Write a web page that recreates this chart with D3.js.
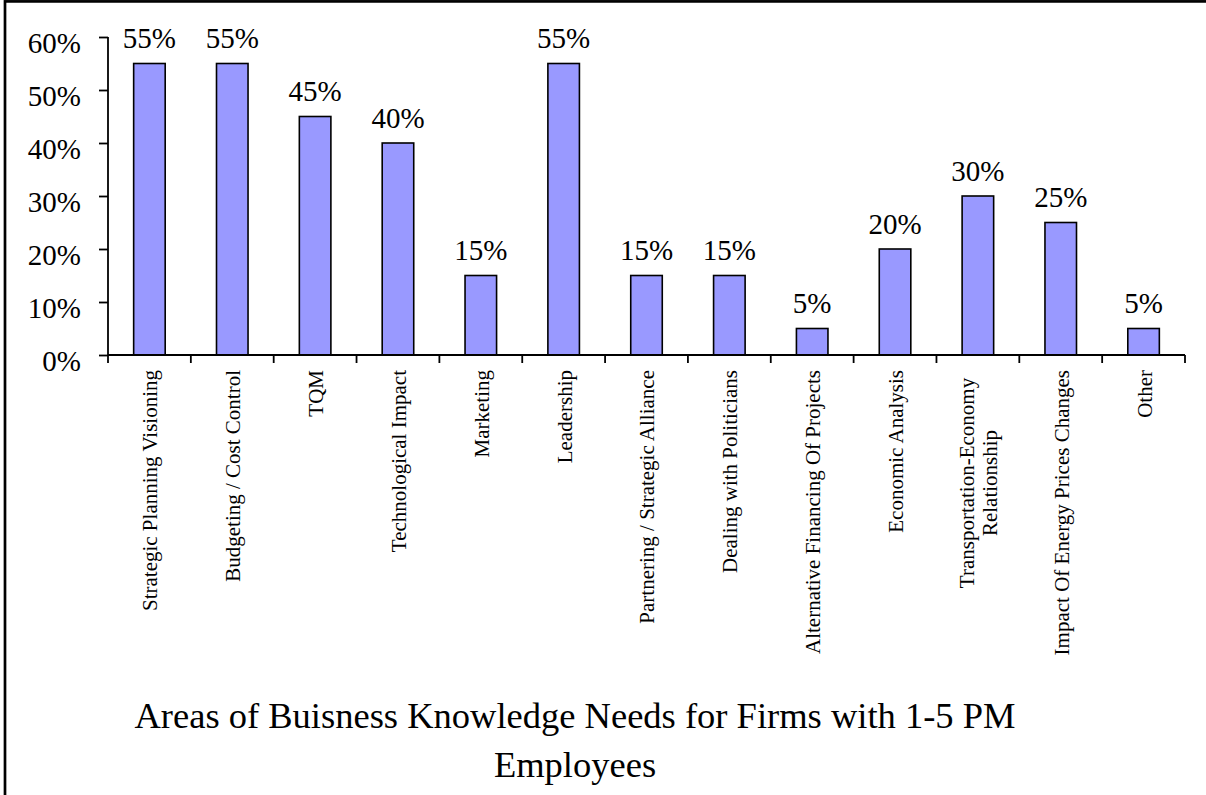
<!DOCTYPE html>
<html>
<head>
<meta charset="utf-8">
<script src="https://cdn.jsdelivr.net/npm/d3@7"></script>
<style>
  body { margin: 0; background: #fff; }
  svg { display: block; }
  text { font-family: "Liberation Serif", "Times New Roman", serif; fill: #000; }
</style>
</head>
<body>
<div id="chart"></div>
<script>
const width = 1206;
const height = 795;

const categories = [
  "Strategic Planning Visioning",
  "Budgeting / Cost Control",
  "TQM",
  "Technological Impact",
  "Marketing",
  "Leadership",
  "Partnering / Strategic Alliance",
  "Dealing with Politicians",
  "Alternative Financing Of Projects",
  "Economic Analysis",
  ["Transportation-Economy", "Relationship"],
  "Impact Of Energy Prices Changes",
  "Other"
];
const values = [0.55, 0.55, 0.45, 0.40, 0.15, 0.55, 0.15, 0.15, 0.05, 0.20, 0.30, 0.25, 0.05];
const yTicks = [0, 0.1, 0.2, 0.3, 0.4, 0.5, 0.6];
const titleLines = ["Areas of Buisness Knowledge Needs for Firms with 1-5 PM", "Employees"];

const plot = { left: 108, right: 1185, top: 37, bottom: 355 };
const barFill = "#9999FF";

const svg = d3.select("#chart").append("svg")
  .attr("width", width)
  .attr("height", height);

// outer frame (only top and left edges fall inside the picture)
svg.append("rect")
  .attr("x", 5).attr("y", 1.4)
  .attr("width", width + 50).attr("height", height + 50)
  .attr("fill", "none")
  .attr("stroke", "#000")
  .attr("stroke-width", 2.7);

const x = d3.scaleBand()
  .domain(d3.range(categories.length))
  .range([plot.left, plot.right])
  .paddingInner(0.6)
  .paddingOuter(0.3);

const band = (plot.right - plot.left) / categories.length;

const y = d3.scaleLinear()
  .domain([0, 0.6])
  .range([plot.bottom, plot.top]);

// bars
svg.append("g").selectAll("rect")
  .data(values)
  .join("rect")
  .attr("x", (d, i) => x(i) + 0.8)
  .attr("y", d => y(d))
  .attr("width", x.bandwidth() - 1.6)
  .attr("height", d => y(0) - y(d))
  .attr("fill", barFill)
  .attr("stroke", "#000")
  .attr("stroke-width", 1.6);

// value labels
svg.append("g").selectAll("text")
  .data(values)
  .join("text")
  .attr("x", (d, i) => x(i) + x.bandwidth() / 2)
  .attr("y", d => y(d) - 15.5)
  .attr("text-anchor", "middle")
  .attr("font-size", 29)
  .text(d => d3.format(".0%")(d));

// y axis
const yAxis = d3.axisLeft(y)
  .tickValues(yTicks)
  .tickFormat(d3.format(".0%"))
  .tickSize(9)
  .tickPadding(18);

const gy = svg.append("g")
  .attr("transform", `translate(${plot.left},0)`)
  .call(yAxis);
gy.select(".domain").attr("d", `M0,${plot.top}V${plot.bottom}`).attr("stroke-width", 1.8);
gy.selectAll(".tick line").attr("stroke-width", 1.8);
gy.selectAll(".tick text")
  .attr("font-family", "Liberation Serif, Times New Roman, serif")
  .attr("font-size", 29)
  .attr("dy", "0.55em");

// x axis line and boundary ticks
const gx = svg.append("g");
gx.append("line")
  .attr("x1", plot.left).attr("x2", plot.right)
  .attr("y1", plot.bottom).attr("y2", plot.bottom)
  .attr("stroke", "#000").attr("stroke-width", 1.8);
gx.selectAll("line.tick")
  .data(d3.range(categories.length + 1))
  .join("line")
  .attr("class", "tick")
  .attr("x1", i => plot.left + i * band)
  .attr("x2", i => plot.left + i * band)
  .attr("y1", plot.bottom)
  .attr("y2", plot.bottom + 8)
  .attr("stroke", "#000").attr("stroke-width", 1.8);

// category labels, rotated
const labelTop = 370;
const wrapWidth = 226;
const catFont = 21;
const cats = svg.append("g").selectAll("g")
  .data(categories)
  .join("g")
  .attr("transform", (d, i) => `translate(${x(i) + x.bandwidth() / 2},0)`);

cats.each(function (d) {
  const g = d3.select(this);
  if (Array.isArray(d)) {
    const lh = catFont * 1.1;
    d.forEach((line, k) => {
      g.append("text")
        .attr("transform", `translate(${(k - (d.length - 1) / 2) * lh},${labelTop + wrapWidth / 2}) rotate(-90)`)
        .attr("text-anchor", "middle")
        .attr("dy", "0.38em")
        .attr("font-size", catFont)
        .text(line);
    });
  } else {
    g.append("text")
      .attr("transform", `translate(0,${labelTop}) rotate(-90)`)
      .attr("text-anchor", "end")
      .attr("dy", "0.38em")
      .attr("font-size", catFont)
      .text(d);
  }
});

// title
svg.append("g").selectAll("text")
  .data(titleLines)
  .join("text")
  .attr("x", 575)
  .attr("y", (d, i) => 728 + i * 49)
  .attr("text-anchor", "middle")
  .attr("font-size", 36.5)
  .text(d => d);
</script>
</body>
</html>
